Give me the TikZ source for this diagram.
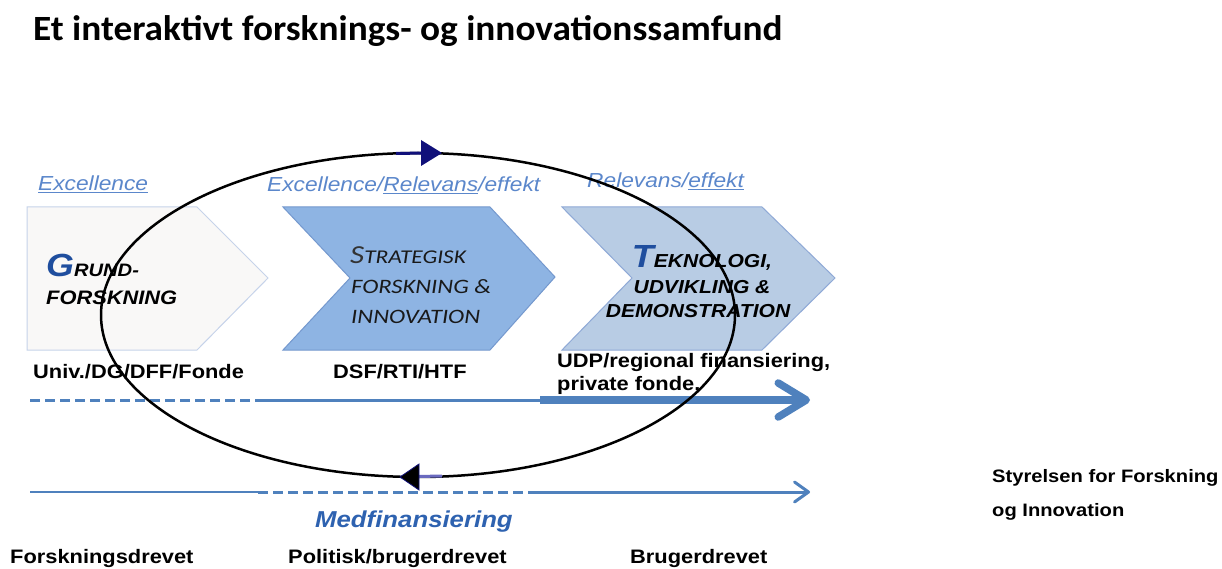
\documentclass[tikz,border=0pt]{standalone}
\usepackage{fontspec}
\setmainfont{Liberation Sans}[FakeStretch=1.12]
\newfontfamily\titlefont{Carlito}[FakeStretch=1.05]
\newfontfamily\calfont{Carlito}[FakeStretch=1.2]
\usetikzlibrary{arrows.meta}

\definecolor{lineblue}{HTML}{4F81BD}
\definecolor{tagblue}{HTML}{5B87CB}
\definecolor{medblue}{HTML}{2E62B0}
\definecolor{initblue}{HTML}{1F4E9E}
\definecolor{initgray}{HTML}{333333}
\definecolor{chevA}{HTML}{F9F8F7}
\definecolor{chevAline}{HTML}{C6D3EA}
\definecolor{chevB}{HTML}{8EB4E3}
\definecolor{chevBline}{HTML}{7498CE}
\definecolor{chevC}{HTML}{B8CCE4}
\definecolor{chevCline}{HTML}{8FA9D6}
\definecolor{navy}{HTML}{10107A}
\definecolor{markpurple}{HTML}{6A6ABF}

\tikzset{
  lbl/.style={anchor=base west,inner sep=0,font={\bfseries\fontsize{19.5}{20}\selectfont}},
  tag/.style={anchor=base west,inner sep=0,text=tagblue,font={\itshape\fontsize{20.3}{21}\selectfont}},
  capA/.style={anchor=base west,inner sep=0,font={\bfseries\itshape\fontsize{19.5}{20}\selectfont}},
  capB/.style={anchor=base west,inner sep=0,text=black!90,font={\calfont\itshape\fontsize{20.5}{21}\selectfont}},
  capC/.style={anchor=base,inner sep=0,font={\bfseries\itshape\fontsize{18.8}{19}\selectfont}},
  chevron/.style={line width=1pt},
  flow/.style={draw=lineblue,line width=3pt},
}

\begin{document}
\begin{tikzpicture}[x=1pt,y=-1pt]
\useasboundingbox (0,0) rectangle (1222,569);
\fill[white] (0,0) rectangle (1222,569);

\node[anchor=base west,inner sep=0,font={\titlefont\bfseries\fontsize{35.5}{36}\selectfont}] (title) at (33,41) {Et interaktivt forsknings- og innovationssamfund};

% the three stages
\filldraw[chevron,fill=chevA,draw=chevAline] (27,207) -- (197,207) -- (268,278) -- (197,350) -- (27,350) -- cycle;
\filldraw[chevron,fill=chevB,draw=chevBline] (283,207) -- (490,207) -- (555,277) -- (490,350) -- (283,350) -- (350,278) -- cycle;
\filldraw[chevron,fill=chevC,draw=chevCline] (562,207) -- (762,207) -- (835,278) -- (762,350) -- (562,350) -- (632,278) -- cycle;

\node[tag] (tagA) at (38,191) {\underline{Excellence}};
\node[tag] (tagB) at (267,192) {Excellence/\underline{Relevans}/effekt};
\node[tag] (tagC) at (587,188) {Relevans/\underline{effekt}};

\node[capA] (grundA) at (46,276) {{\fontsize{32}{32}\selectfont\color{initblue}G}\fontsize{18}{18}\selectfont RUND-};
\node[capA] (grundB) at (46,304) {FORSKNING};

\node[capB] (stratA) at (350,263) {{\fontsize{26}{26}\selectfont\color{initgray}S}\fontsize{19.5}{20}\selectfont TRATEGISK};
\node[capB] (stratB) at (351,293) {FORSKNING \&};
\node[capB] (stratC) at (351,323) {INNOVATION};

\node[capC] (tekA) at (702,267) {{\fontsize{32}{32}\selectfont\color{initblue}T}EKNOLOGI,};
\node[capC] (tekB) at (702,293) {UDVIKLING \&};
\node[capC] (tekC) at (698,317) {DEMONSTRATION};

\node[lbl] (fundA) at (33,378) {Univ./DG/DFF/Fonde};
\node[lbl] (fundB) at (333,378) {DSF/RTI/HTF};
\node[lbl] (fundC) at (557,367) {UDP/regional finansiering,};
\node[lbl] (fundD) at (557,390) {private fonde.};

% funding flows
\coordinate (upA) at (30,400);
\coordinate (upB) at (256,400);
\coordinate (upC) at (540,400);
\coordinate (upD) at (810,400);
\draw[flow,dash pattern=on 10pt off 5pt] (upA) -- (upB);
\draw[flow] (upB) -- (upC);
\draw[flow,line width=7.5pt,-{Straight Barb[length=28pt,width=34pt,round]}] (upC) -- (upD);

\coordinate (loA) at (30,492);
\coordinate (loB) at (258,492);
\coordinate (loC) at (530,492);
\coordinate (loD) at (810,492);
\draw[flow,line width=2pt] (loA) -- (loB);
\draw[flow,dash pattern=on 10pt off 5pt] (loB) -- (loC);
\draw[flow,-{Straight Barb[length=14pt,width=20pt,round]}] (loC) -- (loD);

\node[lbl,text=medblue,font={\bfseries\itshape\fontsize{23}{23}\selectfont}] (cofund) at (315,527) {Medfinansiering};

\node[lbl] (drvA) at (10,563) {Forskningsdrevet};
\node[lbl] (drvB) at (288,563) {Politisk/brugerdrevet};
\node[lbl] (drvC) at (630,563) {Brugerdrevet};

\node[lbl,font={\bfseries\fontsize{18}{18}\selectfont}] (agencyA) at (992,482) {Styrelsen for Forskning};
\node[lbl,font={\bfseries\fontsize{18}{18}\selectfont}] (agencyB) at (992,516) {og Innovation};

% interaction cycle
\draw[line width=2.5pt] (418,315) ellipse [x radius=317pt, y radius=162pt];
\draw[navy,line width=3pt] (396,153.5) -- (424,153);
\fill[navy] (442,153) -- (421,140) -- (421,166) -- cycle;
\draw[markpurple,line width=3pt] (418,476.5) -- (442,476);
\filldraw[black,draw=navy,line width=0.8pt] (400,477) -- (419,464) -- (419,490) -- cycle;
\end{tikzpicture}
\end{document}
